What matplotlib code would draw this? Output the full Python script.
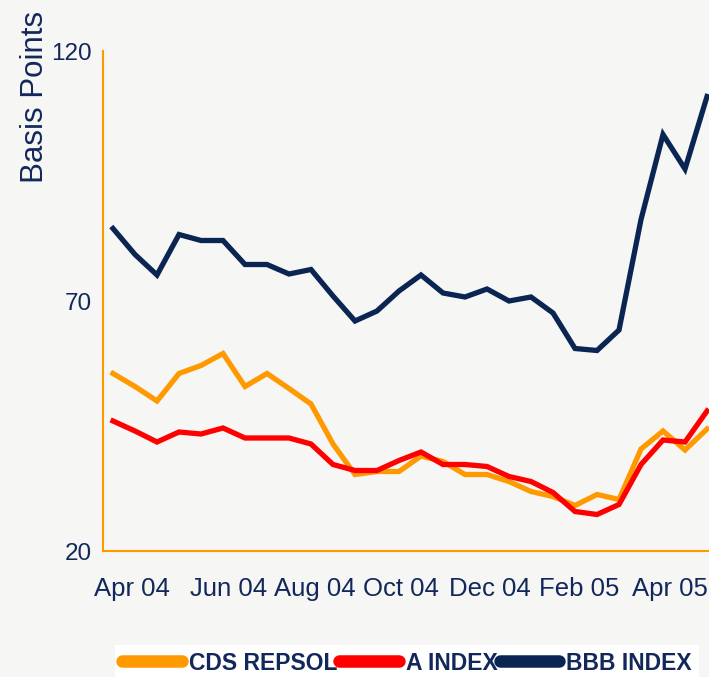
import matplotlib.pyplot as plt
from matplotlib.lines import Line2D

# semi-monthly observations, Apr 04 - Apr 05
cds_repsol = [55.5, 52.9, 50.0, 55.5, 57.1, 59.5, 52.9, 55.5, 52.5, 49.4, 41.4, 35.3,
              35.9, 35.9, 39.0, 37.9, 35.3, 35.3, 33.9, 31.9, 30.9, 29.1, 31.3, 30.3,
              40.4, 44.0, 40.2, 44.4]
a_index = [46.0, 44.0, 41.8, 43.8, 43.4, 44.6, 42.6, 42.6, 42.6, 41.4, 37.3, 36.1,
           36.1, 38.1, 39.8, 37.3, 37.3, 36.9, 34.9, 33.9, 31.7, 27.9, 27.3, 29.3,
           37.3, 42.2, 41.8, 48.0]
bbb_index = [84.5, 79.3, 75.2, 83.3, 82.1, 82.1, 77.3, 77.3, 75.4, 76.3, 71.0, 66.0,
             68.0, 72.0, 75.2, 71.6, 70.8, 72.4, 70.0, 70.8, 67.6, 60.5, 60.1, 64.2,
             86.3, 103.3, 96.4, 110.9]
month_labels = ["Apr 04", "Jun 04", "Aug 04", "Oct 04", "Dec 04", "Feb 05", "Apr 05"]
y_ticks = [20, 70, 120]

navy = "#0b2552"
orange = "#ff9900"
red = "#ff0000"
text_col = "#13285a"

plt.rcParams['font.family'] = ['Liberation Sans', 'DejaVu Sans']

fig = plt.figure(figsize=(7.09, 6.77), dpi=100)
fig.patch.set_facecolor("#f6f6f4")
ax = fig.add_axes([103 / 709, 126 / 677, 606 / 709, 500 / 677])
ax.set_facecolor("none")

x = list(range(len(cds_repsol)))
lw = 3.8
ax.plot(x, bbb_index, color=navy, lw=lw, solid_joinstyle='miter')
ax.plot(x, cds_repsol, color=orange, lw=lw, solid_joinstyle='miter')
ax.plot(x, a_index, color=red, lw=lw, solid_joinstyle='miter')

ax.set_xlim(-0.4545, 27.09)
ax.set_ylim(20, 120)

for side in ['top', 'right']:
    ax.spines[side].set_visible(False)
for side in ['left', 'bottom']:
    ax.spines[side].set_color(orange)
    ax.spines[side].set_linewidth(1.5)

ax.set_yticks(y_ticks)
ax.set_yticklabels([str(v) for v in y_ticks])
ax.set_xticks([0.86, 5.23, 9.18, 13.09, 17.14, 21.18, 25.32])
ax.set_xticklabels(month_labels)
ax.tick_params(axis='both', length=0, labelcolor=text_col)
ax.tick_params(axis='x', pad=19, labelsize=18.5)
ax.tick_params(axis='y', pad=8, labelsize=17.5)

fig.text(35 / 709, 1 - 97 / 677, "Basis Points", rotation=90, ha='center', va='center',
         fontsize=22.5, color=text_col)

handles = [Line2D([], [], color=orange, lw=9, solid_capstyle='round'),
           Line2D([], [], color=red, lw=9, solid_capstyle='round'),
           Line2D([], [], color=navy, lw=9, solid_capstyle='round')]
leg = fig.legend(handles, ["CDS REPSOL", "A INDEX", "BBB INDEX"], ncol=3,
                 loc='center', bbox_to_anchor=(407 / 709, 1 - 663 / 677),
                 frameon=True, facecolor='white', edgecolor='none', framealpha=1,
                 fancybox=False, borderpad=0.3, columnspacing=0.1, handletextpad=0.3,
                 handlelength=2.6, prop={'weight': 'bold', 'size': 16.5})
for t in leg.get_texts():
    t.set_color(text_col)

fig.savefig("out.png", dpi=100, facecolor=fig.get_facecolor())
